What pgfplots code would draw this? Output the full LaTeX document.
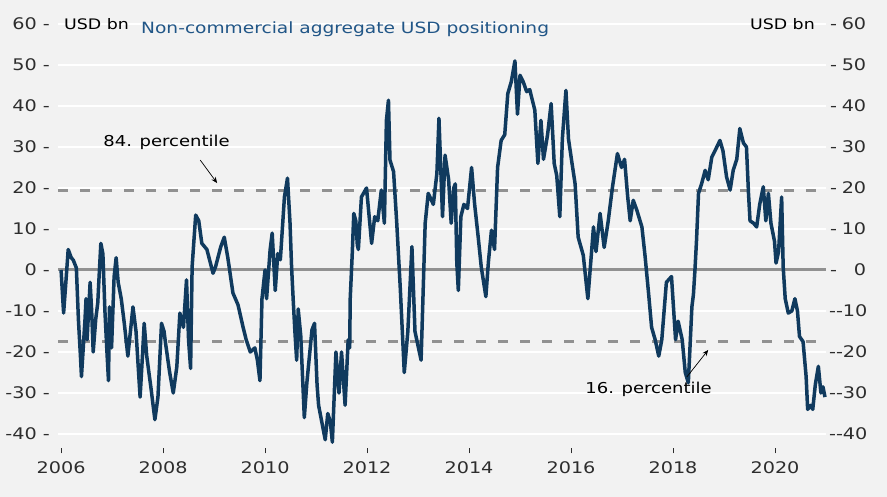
\documentclass[border=0pt]{standalone}
\usepackage{pgfplots}
\pgfplotsset{compat=1.18}
\usepackage{fontspec}
\setmainfont{DejaVu Sans}[FakeStretch=1.2]
\usetikzlibrary{arrows.meta}
\definecolor{bg}{RGB}{242,242,242}
\definecolor{navy}{RGB}{16,58,94}
\definecolor{ttl}{RGB}{33,86,135}
\definecolor{refgray}{RGB}{145,145,145}
\definecolor{lbl}{RGB}{45,45,45}
\newcommand{\rl}[1]{\makebox[36bp]{-\hfill #1}}
\begin{document}
\begin{tikzpicture}[x=1bp,y=1bp]
\fill[bg] (0,0) rectangle (887,497);
\begin{axis}[
  at={(58bp,50.7bp)}, anchor=south west,
  scale only axis, width=768bp, height=422.3bp,
  xmin=2005.94, xmax=2021, ymin=-43, ymax=60,
  axis line style={draw=none},
  clip=false,
  ymajorgrids, major grid style={white, line width=1.5bp},
  ytick={-40,-30,...,60},
  yticklabels={{-40 -},{-30 -},{-20 -},{-10 -},{0 -},{10 -},{20 -},{30 -},{40 -},{50 -},{60 -}},
  ytick pos=left,
  ytick style={draw=none},
  yticklabel style={font=\fontsize{16bp}{18bp}\selectfont, text=lbl, inner sep=0pt, anchor=east, xshift=-3bp},
  xtick={2006,2008,...,2020},
  xticklabels={2006,2008,2010,2012,2014,2016,2018,2020},
  xtick pos=bottom,
  tick align=outside, major tick length=5bp,
  xtick style={draw=lbl, line width=0.8bp, yshift=-2bp},
  xticklabel style={font=\fontsize{16bp}{18bp}\selectfont, text=lbl, inner sep=0pt, anchor=north, yshift=-10bp},
]
\addplot[refgray, line width=3bp] coordinates {(2005.94,0) (2021,0)};
\addplot[refgray, line width=3bp, dash pattern=on 10bp off 12bp] coordinates {(2005.94,19.4) (2021,19.4)};
\addplot[refgray, line width=3bp, dash pattern=on 10bp off 12bp] coordinates {(2005.94,-17.5) (2021,-17.5)};
\addplot[navy, line width=3.5bp, line join=round] table {
x y
2006.00 0
2006.05 -10.5
2006.10 -2
2006.14 5
2006.20 3
2006.24 2.4
2006.30 0.5
2006.34 -12
2006.38 -21
2006.40 -26
2006.44 -18
2006.47 -12
2006.49 -7
2006.51 -17
2006.57 -3
2006.60 -10
2006.63 -20
2006.68 -12
2006.72 -8
2006.74 -3
2006.78 6.5
2006.82 4
2006.86 -10
2006.90 -20
2006.93 -27
2006.95 -9
2006.99 -19
2007.04 -1.7
2007.08 3
2007.12 -3
2007.18 -7
2007.24 -13
2007.31 -21
2007.36 -15
2007.41 -9
2007.47 -15
2007.55 -31
2007.60 -20
2007.63 -13
2007.68 -21
2007.76 -28.5
2007.84 -36.5
2007.90 -31
2007.97 -13
2008.02 -15
2008.05 -18
2008.13 -25
2008.20 -30
2008.27 -23.6
2008.33 -10.5
2008.40 -14
2008.46 -2.4
2008.50 -17
2008.54 -24
2008.57 0.8
2008.64 13.4
2008.70 12
2008.76 6.5
2008.86 5
2008.98 -0.8
2009.03 0.8
2009.13 5.6
2009.20 8
2009.27 3
2009.37 -5.6
2009.47 -8.5
2009.57 -14
2009.63 -17
2009.71 -20
2009.80 -19
2009.85 -22
2009.90 -27
2009.94 -7
2010.00 0
2010.03 -7
2010.10 5
2010.14 9
2010.20 -5
2010.25 4
2010.30 2.5
2010.38 17.8
2010.44 22.4
2010.49 11.4
2010.52 0.8
2010.555 -8
2010.59 -16
2010.62 -22
2010.65 -9.5
2010.70 -16
2010.77 -36
2010.82 -27.5
2010.92 -14.6
2010.97 -13
2011.02 -28
2011.05 -33
2011.18 -41.4
2011.23 -35
2011.28 -37
2011.32 -42
2011.39 -20
2011.45 -30
2011.50 -20
2011.57 -33
2011.63 -17
2011.66 -19
2011.67 -7
2011.71 4
2011.74 13.8
2011.78 12
2011.81 6
2011.83 5
2011.89 17.8
2011.99 20
2012.09 6.5
2012.15 13
2012.21 12
2012.28 19.5
2012.34 11.4
2012.38 36.5
2012.42 41.4
2012.45 26.8
2012.52 24
2012.58 12
2012.65 -4
2012.73 -25
2012.80 -15
2012.88 5.7
2012.94 -15
2013.06 -22
2013.14 11.4
2013.20 18.7
2013.30 16
2013.37 23.6
2013.41 37
2013.48 13
2013.53 28
2013.60 22
2013.65 11.4
2013.70 20
2013.73 21
2013.76 1.7
2013.79 -5
2013.84 13
2013.90 16
2013.97 15
2014.05 25
2014.11 16
2014.18 8
2014.24 0.7
2014.33 -6.5
2014.38 2
2014.44 9.7
2014.50 5
2014.56 25
2014.63 31.6
2014.70 33
2014.76 43
2014.83 46
2014.90 51
2014.95 38
2015.00 47.5
2015.06 46
2015.13 43.5
2015.19 44
2015.29 39
2015.35 26
2015.41 36.5
2015.46 27
2015.54 33
2015.61 40.6
2015.67 26
2015.72 23
2015.78 13
2015.83 32
2015.90 43.8
2015.95 32
2016.01 26.8
2016.08 21
2016.14 8
2016.24 3.6
2016.33 -7
2016.40 4
2016.44 10.5
2016.49 4.5
2016.57 13.8
2016.65 5.5
2016.73 12
2016.81 20
2016.91 28.4
2016.99 25
2017.05 27
2017.11 18
2017.16 12
2017.22 17
2017.29 14.6
2017.39 10.5
2017.45 3.6
2017.52 -5.6
2017.58 -14
2017.65 -17
2017.72 -21
2017.78 -17
2017.87 -3
2017.97 -1.6
2018.05 -17
2018.10 -12.5
2018.18 -17
2018.24 -25
2018.30 -27.5
2018.37 -9
2018.40 -6
2018.43 0
2018.46 7
2018.50 18.7
2018.56 21
2018.63 24.3
2018.69 22
2018.76 27.5
2018.82 29
2018.92 31.6
2018.98 29
2019.05 22.7
2019.12 19.5
2019.18 24.3
2019.25 27
2019.31 34.5
2019.38 31
2019.44 30
2019.48 18.7
2019.51 12
2019.58 11.4
2019.64 10.5
2019.70 16
2019.77 20.3
2019.82 12
2019.87 18.7
2019.92 11.4
2019.99 7
2020.02 1.7
2020.07 4.5
2020.13 17.8
2020.16 0.8
2020.20 -7
2020.26 -10.5
2020.33 -10
2020.39 -7
2020.44 -10
2020.48 -16.2
2020.55 -17.5
2020.61 -26
2020.64 -34
2020.70 -33
2020.74 -34
2020.79 -28
2020.85 -23.5
2020.90 -30
2020.94 -28.5
2020.98 -31
};
\node[anchor=west, inner sep=0pt, font=\fontsize{14.5bp}{17bp}\selectfont, text=black] at (rel axis cs:0,1) [xshift=6bp] {USD bn};
\node[anchor=west, inner sep=0pt, font=\fontsize{15.5bp}{18bp}\selectfont, text=ttl] at (rel axis cs:0,1) [xshift=83bp, yshift=-5bp] {Non-commercial aggregate USD positioning};
\node[anchor=east, inner sep=0pt, font=\fontsize{14.5bp}{17bp}\selectfont, text=black] at (rel axis cs:1,1) [xshift=-11bp] {USD bn};
\node[font=\fontsize{15bp}{17bp}\selectfont, text=black, inner sep=0pt] at (axis cs:2008.07,31.2) {84. percentile};
\draw[-{Stealth[length=6bp,width=5bp]}, black, line width=0.7bp] (axis cs:2008.73,26.8) -- (axis cs:2009.06,21.2);
\node[font=\fontsize{15bp}{17bp}\selectfont, text=black, inner sep=0pt] at (axis cs:2017.52,-29) {16. percentile};
\draw[-{Stealth[length=6bp,width=5bp]}, black, line width=0.7bp] (axis cs:2018.27,-26.1) -- (axis cs:2018.69,-19.5);
\end{axis}
\begin{axis}[
  at={(58bp,50.7bp)}, anchor=south west,
  scale only axis, width=768bp, height=422.3bp,
  xmin=2005.94, xmax=2021, ymin=-43, ymax=60,
  axis line style={draw=none},
  xtick=\empty,
  ytick={-40,-30,...,60},
  yticklabels={{\rl{-40}},{\rl{-30}},{\rl{-20}},{\rl{-10}},{\rl{0}},{\rl{10}},{\rl{20}},{\rl{30}},{\rl{40}},{\rl{50}},{\rl{60}}},
  ytick pos=right, yticklabel pos=right,
  ytick style={draw=none},
  yticklabel style={font=\fontsize{16bp}{18bp}\selectfont, text=lbl, inner sep=0pt, anchor=west, xshift=4bp},
]
\end{axis}
\pgfresetboundingbox
\useasboundingbox (0,0) rectangle (887,497);
\end{tikzpicture}
\end{document}
